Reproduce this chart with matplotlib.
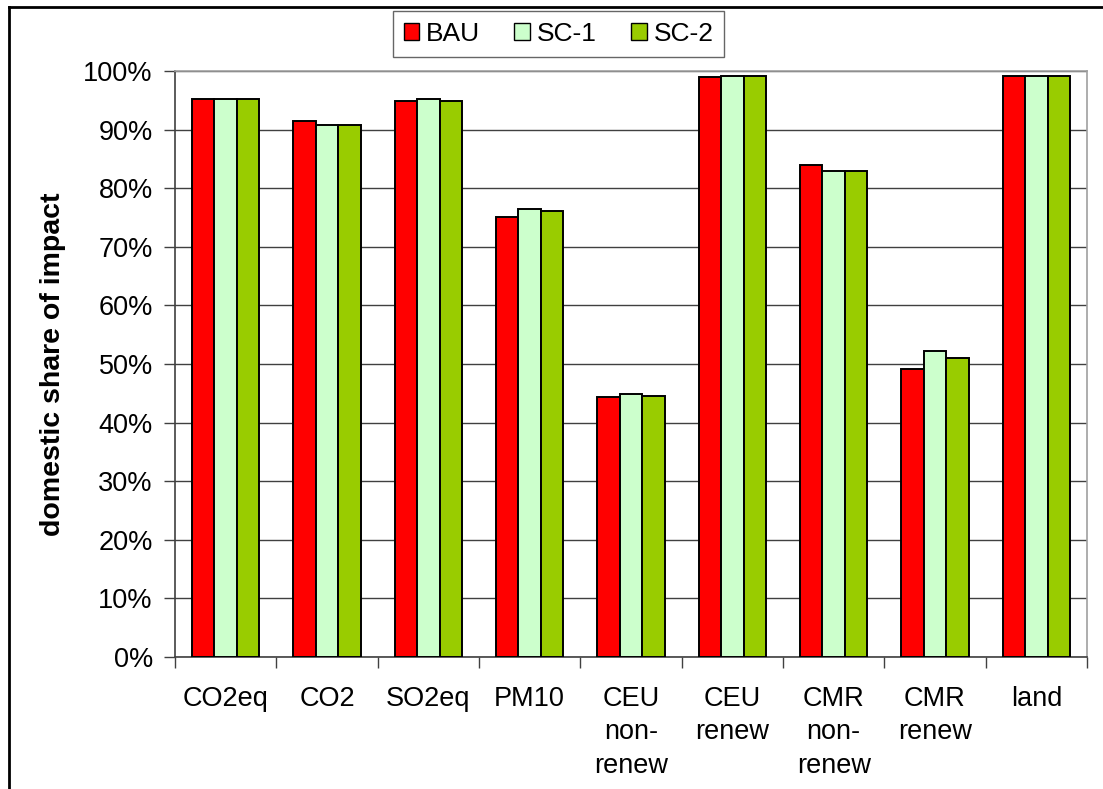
import matplotlib
matplotlib.use("Agg")
import matplotlib.pyplot as plt
import numpy as np
from matplotlib.lines import Line2D
from matplotlib.patches import Patch
from matplotlib.ticker import FuncFormatter, MultipleLocator

categories = ["CO2eq", "CO2", "SO2eq", "PM10", "CEU\nnon-\nrenew", "CEU\nrenew",
              "CMR\nnon-\nrenew", "CMR\nrenew", "land"]
series_names = ["BAU", "SC-1", "SC-2"]
bau = [95.2, 91.5, 94.9, 75.1, 44.3, 98.9, 83.9, 49.1, 99.1]
sc1 = [95.2, 90.8, 95.2, 76.4, 44.9, 99.1, 82.9, 52.2, 99.1]
sc2 = [95.2, 90.8, 94.9, 76.1, 44.6, 99.1, 82.9, 51.1, 99.1]
colors = ["#FF0000", "#CCFFCC", "#99CC00"]

plt.rcParams['font.family'] = ['Liberation Sans', 'DejaVu Sans']

fig = plt.figure(figsize=(11.03, 7.89), dpi=100)
ax = fig.add_axes([175/1103, 1-657/789, (1087-175)/1103, (657-71)/789])

x = np.arange(len(categories))
w = 1/4.5
for i, (vals, c, name) in enumerate(zip([bau, sc1, sc2], colors, series_names)):
    ax.bar(x + (i-1)*w, vals, width=w, color=c, edgecolor='black', linewidth=1.4,
           label=name, zorder=3)

ax.set_xlim(-0.5, len(categories)-0.5)
ax.set_ylim(0, 100)
ax.yaxis.set_major_locator(MultipleLocator(10))
ax.yaxis.set_major_formatter(FuncFormatter(lambda v, p: f"{v:.0f}%"))
ax.grid(axis='y', color='#404040', linewidth=1, zorder=0)
ax.set_axisbelow(True)

ax.set_xticks(x)
ax.set_xticklabels(categories, fontsize=19.5, linespacing=1.36, va='top')
ax.set_xticks(np.arange(-0.5, len(categories)), minor=True)
ax.tick_params(axis='x', which='major', length=0, pad=21)
ax.tick_params(axis='x', which='minor', length=8, width=1, color='#404040', direction='out')
ax.tick_params(axis='y', length=8, width=1, color='#404040', direction='out', labelsize=19.5, pad=8)

for s in ['left', 'bottom']:
    ax.spines[s].set_color('#404040')
    ax.spines[s].set_linewidth(1.2)
for s in ['top', 'right']:
    ax.spines[s].set_color('#A0A0A0')
    ax.spines[s].set_linewidth(1.2)

ax.set_ylabel("domestic share of impact", fontsize=20.5, fontweight='bold')
ax.yaxis.label.set_verticalalignment('center')
ax.yaxis.set_label_coords((53-175)/(1087-175), 0.5)

handles = [Patch(facecolor=c, edgecolor='black', linewidth=1, label=n) for c, n in zip(colors, series_names)]
leg = fig.legend(handles=handles, loc='center', ncol=3,
                 bbox_to_anchor=((393+724)/2/1103, 1-34/789), fontsize=19,
                 frameon=True, fancybox=False, edgecolor='#404040',
                 handlelength=0.6, handleheight=0.6, handletextpad=0.25,
                 columnspacing=1.3, borderpad=0.4)
leg.get_frame().set_linewidth(1)

# outer frame (left and top)
fig.add_artist(Line2D([9/1103, 9/1103], [0, 1-7/789], color='black', linewidth=2, transform=fig.transFigure))
fig.add_artist(Line2D([9/1103, 1], [1-7/789, 1-7/789], color='black', linewidth=2, transform=fig.transFigure))

fig.savefig("out.png", dpi=100)
